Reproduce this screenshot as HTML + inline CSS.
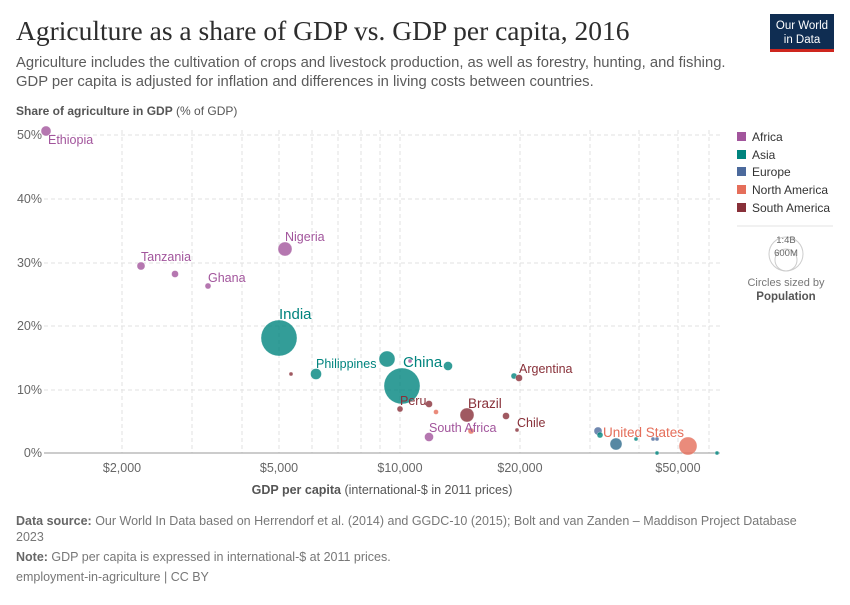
<!DOCTYPE html>
<html><head><meta charset="utf-8"><style>
body{margin:0;background:#fff;width:850px;height:600px;overflow:hidden;font-family:"Liberation Sans",sans-serif}
</style></head><body>
<svg width="850" height="600" xmlns="http://www.w3.org/2000/svg" font-family="Liberation Sans, sans-serif">
<text x="16" y="40" font-family="Liberation Serif, serif" font-size="27.5" fill="#2d2d2d">Agriculture as a share of GDP vs. GDP per capita, 2016</text>
<text x="16" y="67" font-size="14.8" fill="#5b5b5b">Agriculture includes the cultivation of crops and livestock production, as well as forestry, hunting, and fishing.</text>
<text x="16" y="86" font-size="14.8" fill="#5b5b5b">GDP per capita is adjusted for inflation and differences in living costs between countries.</text>
<rect x="770" y="14" width="64" height="36" fill="#0f2d52"/><rect x="770" y="49" width="64" height="3" fill="#ce261e"/>
<text x="802" y="29" font-size="11.5" fill="#fff" text-anchor="middle">Our World</text>
<text x="802" y="43" font-size="11.5" fill="#fff" text-anchor="middle">in Data</text>
<text x="16" y="115" font-size="12" fill="#555"><tspan font-weight="bold">Share of agriculture in GDP</tspan> (% of GDP)</text>
<g stroke="#e2e2e2" stroke-dasharray="4,3" stroke-width="1">
<line x1="44" x2="720" y1="135" y2="135"/><line x1="44" x2="720" y1="199" y2="199"/><line x1="44" x2="720" y1="263" y2="263"/><line x1="44" x2="720" y1="326" y2="326"/><line x1="44" x2="720" y1="390" y2="390"/>
<line x1="122" x2="122" y1="130" y2="453"/><line x1="192" x2="192" y1="130" y2="453"/><line x1="242" x2="242" y1="130" y2="453"/><line x1="279" x2="279" y1="130" y2="453"/><line x1="312" x2="312" y1="130" y2="453"/><line x1="338" x2="338" y1="130" y2="453"/><line x1="361" x2="361" y1="130" y2="453"/><line x1="380" x2="380" y1="130" y2="453"/><line x1="400" x2="400" y1="130" y2="453"/><line x1="520" x2="520" y1="130" y2="453"/><line x1="590" x2="590" y1="130" y2="453"/><line x1="639" x2="639" y1="130" y2="453"/><line x1="678" x2="678" y1="130" y2="453"/><line x1="709" x2="709" y1="130" y2="453"/>
</g>
<line x1="44" x2="720" y1="453" y2="453" stroke="#999"/>
<g font-size="12.5" fill="#666" text-anchor="end">
<text x="42" y="139">50%</text><text x="42" y="203">40%</text><text x="42" y="267">30%</text><text x="42" y="330">20%</text><text x="42" y="394">10%</text><text x="42" y="457">0%</text></g>
<g font-size="12.5" fill="#666" text-anchor="middle">
<text x="122" y="472">$2,000</text><text x="279" y="472">$5,000</text><text x="400" y="472">$10,000</text><text x="520" y="472">$20,000</text><text x="678" y="472">$50,000</text></g>
<text x="382" y="494" font-size="12.5" fill="#555" text-anchor="middle"><tspan font-weight="bold">GDP per capita</tspan> (international-$ in 2011 prices)</text>
<g fill-opacity="0.8" stroke="#fff" stroke-width="0.3">
<circle cx="46" cy="131" r="5" fill="#a2559c"/><circle cx="141" cy="266" r="4" fill="#a2559c"/><circle cx="175" cy="274" r="3.5" fill="#a2559c"/><circle cx="208" cy="286" r="3" fill="#a2559c"/><circle cx="285" cy="249" r="7" fill="#a2559c"/>
<circle cx="279" cy="338" r="18" fill="#00847e"/><circle cx="291" cy="374" r="2" fill="#883039"/><circle cx="316" cy="374" r="5.5" fill="#00847e"/><circle cx="387" cy="359" r="8" fill="#00847e"/><circle cx="402" cy="386" r="18" fill="#00847e"/><circle cx="410" cy="361" r="2" fill="#a2559c"/><circle cx="448" cy="366" r="4.5" fill="#00847e"/>
<circle cx="400" cy="409" r="3" fill="#883039"/><circle cx="429" cy="404" r="3.5" fill="#883039"/><circle cx="436" cy="412" r="2.5" fill="#e56e5a"/><circle cx="467" cy="415" r="7" fill="#883039"/><circle cx="429" cy="437" r="4.5" fill="#a2559c"/><circle cx="471" cy="431" r="3" fill="#e56e5a"/><circle cx="506" cy="416" r="3.5" fill="#883039"/><circle cx="517" cy="430" r="2" fill="#883039"/><circle cx="514" cy="376" r="3" fill="#00847e"/><circle cx="519" cy="378" r="3.5" fill="#883039"/>
<circle cx="598" cy="431" r="4" fill="#4c6a9c"/><circle cx="600" cy="435" r="3" fill="#00847e"/><circle cx="616" cy="444" r="6" fill="#2d6a8c"/><circle cx="636" cy="439" r="2" fill="#00847e"/><circle cx="653" cy="439" r="2" fill="#4c6a9c"/><circle cx="657" cy="439" r="2" fill="#4c6a9c"/><circle cx="657" cy="453" r="2" fill="#00847e"/><circle cx="688" cy="446" r="9" fill="#e56e5a"/><circle cx="717" cy="453" r="2" fill="#00847e"/>
</g>
<g font-size="12.5">
<text x="48" y="144" fill="#a2559c">Ethiopia</text><text x="141" y="261" fill="#a2559c">Tanzania</text><text x="208" y="282" fill="#a2559c">Ghana</text><text x="285" y="241" fill="#a2559c">Nigeria</text>
<text x="279" y="319" font-size="15" fill="#00847e">India</text><text x="316" y="368" fill="#00847e">Philippines</text><text x="403" y="367" font-size="15" fill="#00847e">China</text>
<text x="519" y="373" fill="#883039">Argentina</text><text x="400" y="405" fill="#883039">Peru</text><text x="468" y="408" font-size="13.5" fill="#883039">Brazil</text><text x="517" y="427" fill="#883039">Chile</text>
<text x="429" y="432" fill="#a2559c">South Africa</text><text x="603" y="437" font-size="13.5" fill="#e56e5a">United States</text>
</g>
<g font-size="12" fill="#333">
<rect x="737" y="132" width="9" height="9" fill="#a2559c"/><text x="752" y="141">Africa</text>
<rect x="737" y="150" width="9" height="9" fill="#00847e"/><text x="752" y="159">Asia</text>
<rect x="737" y="167" width="9" height="9" fill="#4c6a9c"/><text x="752" y="176">Europe</text>
<rect x="737" y="185" width="9" height="9" fill="#e56e5a"/><text x="752" y="194">North America</text>
<rect x="737" y="203" width="9" height="9" fill="#883039"/><text x="752" y="212">South America</text>
</g>
<line x1="737" x2="833" y1="226" y2="226" stroke="#e3e3e3"/>
<circle cx="786" cy="254" r="17" fill="none" stroke="#ccc"/><circle cx="786" cy="260" r="11" fill="none" stroke="#ccc"/>
<text x="786" y="243" font-size="9.5" fill="#666" text-anchor="middle">1:4B</text>
<text x="786" y="256" font-size="9.5" fill="#666" text-anchor="middle">600M</text>
<text x="786" y="286" font-size="11" fill="#777" text-anchor="middle">Circles sized by</text>
<text x="786" y="300" font-size="11.5" fill="#555" font-weight="bold" text-anchor="middle">Population</text>
<g font-size="12.5" fill="#777">
<text x="16" y="525"><tspan font-weight="bold" fill="#666">Data source:</tspan> Our World In Data based on Herrendorf et al. (2014) and GGDC-10 (2015); Bolt and van Zanden – Maddison Project Database</text>
<text x="16" y="541">2023</text>
<text x="16" y="561"><tspan font-weight="bold" fill="#666">Note:</tspan> GDP per capita is expressed in international-$ at 2011 prices.</text>
<text x="16" y="581">employment-in-agriculture | CC BY</text>
</g>
</svg>
</body></html>
